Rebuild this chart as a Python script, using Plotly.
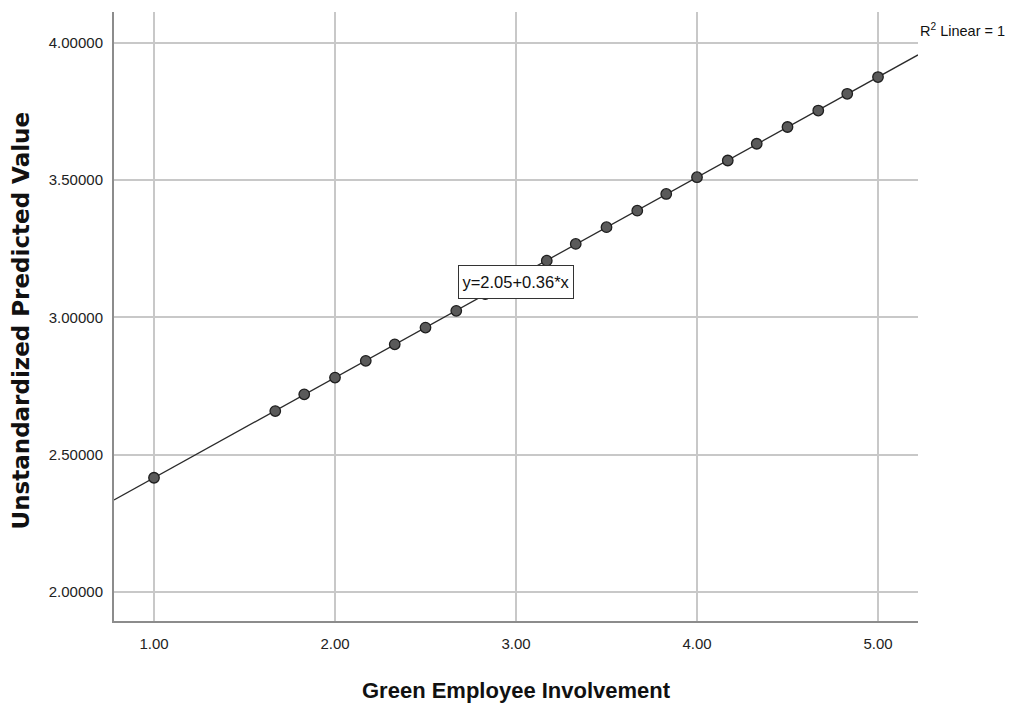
import plotly.graph_objects as go

# Observed levels of green employee involvement and the model's predicted values
involvement = [1.00, 1.67, 1.83, 2.00, 2.17, 2.33, 2.50, 2.67, 2.83, 3.00, 3.17,
               3.33, 3.50, 3.67, 3.83, 4.00, 4.17, 4.33, 4.50, 4.67, 4.83, 5.00]
predicted = [2.416, 2.659, 2.720, 2.781, 2.842, 2.902, 2.963, 3.024, 3.085, 3.146, 3.207,
             3.268, 3.329, 3.389, 3.450, 3.511, 3.572, 3.633, 3.694, 3.754, 3.815, 3.876]

# Linear fit coefficients
intercept = 2.051
slope = 0.365

x_ticks = [1, 2, 3, 4, 5]
x_tick_text = ["1.00", "2.00", "3.00", "4.00", "5.00"]
y_ticks = [2.0, 2.5, 3.0, 3.5, 4.0]
y_tick_text = ["2.00000", "2.50000", "3.00000", "3.50000", "4.00000"]

x_range = [0.779, 5.221]
y_range = [1.894, 4.113]

fit_x = x_range
fit_y = [intercept + slope * v for v in fit_x]

font = "Liberation Sans, Arial, sans-serif"

fig = go.Figure()
fig.add_trace(go.Scatter(
    x=fit_x, y=fit_y, mode="lines",
    line=dict(color="#2b2b2b", width=1.3),
    hoverinfo="skip", showlegend=False,
))
fig.add_trace(go.Scatter(
    x=involvement, y=predicted, mode="markers",
    marker=dict(size=10.5, color="#5a5a5a", line=dict(color="#1e1e1e", width=1.3)),
    showlegend=False,
))

fig.update_layout(
    width=1009, height=707,
    margin=dict(l=114, r=91, t=12, b=86),
    paper_bgcolor="white", plot_bgcolor="white",
    font=dict(family=font, color="#000000"),
    xaxis=dict(
        range=x_range, tickvals=x_ticks, ticktext=x_tick_text,
        showgrid=True, gridcolor="#c8c8c8", gridwidth=1.6,
        showline=True, linecolor="#8c8c8c", linewidth=2,
        ticks="", tickfont=dict(size=15, family=font, color="#222"),
        ticklabelstandoff=8,
        zeroline=False,
    ),
    yaxis=dict(
        range=y_range, tickvals=y_ticks, ticktext=y_tick_text,
        showgrid=True, gridcolor="#c8c8c8", gridwidth=1.6,
        showline=True, linecolor="#8c8c8c", linewidth=2,
        ticks="", tickfont=dict(size=15, family=font, color="#222"),
        ticklabelstandoff=6,
        zeroline=False,
    ),
    annotations=[
        # axis titles
        dict(x=0.5, y=0, xref="paper", yref="paper",
             text="<b>Green Employee Involvement</b>", showarrow=False,
             xanchor="center", yanchor="middle", yshift=-69,
             font=dict(size=22, family=font, color="#111")),
        dict(x=0, y=0.5, xref="paper", yref="paper",
             text="<b>Unstandardized Predicted Value</b>", showarrow=False,
             textangle=-90, xanchor="center", yanchor="middle",
             xshift=-94, yshift=-4,
             font=dict(size=23, family="DejaVu Sans, " + font, color="#111")),
        # fit equation label
        dict(x=3.0, y=3.131, xref="x", yref="y",
             text="y=2.05+0.36*x", showarrow=False,
             xanchor="center", yanchor="middle",
             width=110, height=28,
             font=dict(size=16.5, family=font, color="#111"),
             bgcolor="white", bordercolor="#333", borderwidth=1, borderpad=2),
        # goodness of fit
        dict(x=1.0, y=0.9704, xref="paper", yref="paper",
             text="R<sup>2</sup> Linear = 1", showarrow=False,
             xanchor="left", yanchor="middle", xshift=0,
             font=dict(size=14.5, family=font, color="#111")),
    ],
)

fig.write_html("out.html")
